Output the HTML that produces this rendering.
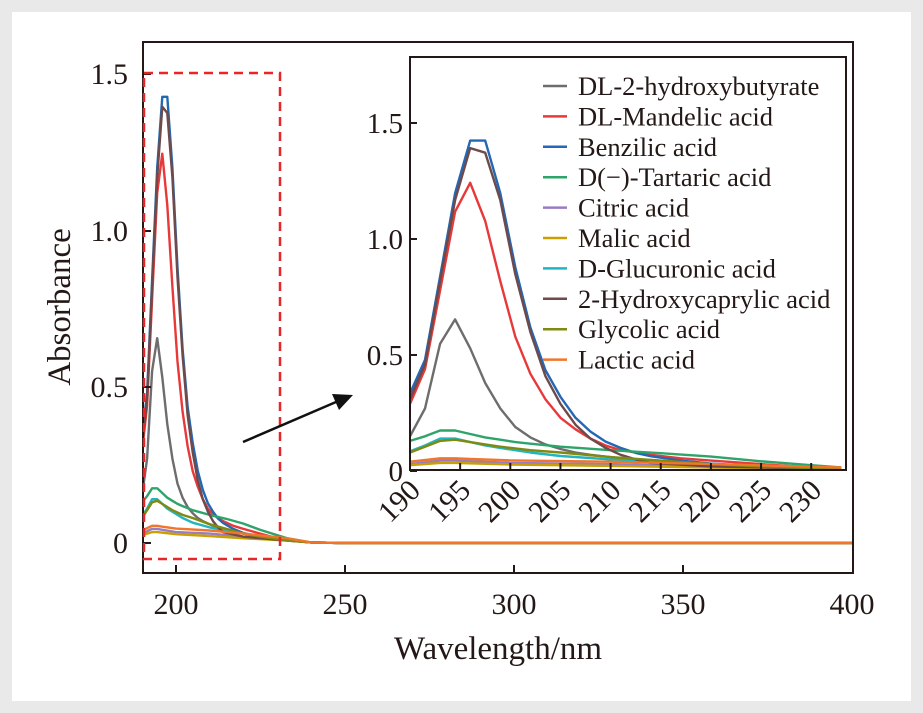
<!DOCTYPE html>
<html><head><meta charset="utf-8"><style>
html,body{margin:0;padding:0;background:#e9e9e9;}
svg{display:block;font-family:"Liberation Serif",serif;}
</style></head><body>
<svg id="s" width="923" height="713" xmlns="http://www.w3.org/2000/svg">
<rect x="0" y="0" width="923" height="713" fill="#e9e9e9"/>
<rect x="12" y="12" width="899" height="689" fill="#fff"/>
<defs>
<clipPath id="cm"><rect x="143" y="42" width="710" height="531"/></clipPath>
<clipPath id="ci"><rect x="410" y="57" width="436" height="413"/></clipPath>
</defs>
<g id="main" clip-path="url(#cm)"></g>
<rect x="143" y="42" width="710" height="531" fill="none" stroke="#231815" stroke-width="2"/>
<g stroke="#231815" stroke-width="2">
<line x1="176" y1="573" x2="176" y2="565"/><line x1="345" y1="573" x2="345" y2="565"/><line x1="514" y1="573" x2="514" y2="565"/><line x1="683" y1="573" x2="683" y2="565"/>
<line x1="143" y1="543" x2="151" y2="543"/><line x1="143" y1="387" x2="151" y2="387"/><line x1="143" y1="231" x2="151" y2="231"/><line x1="143" y1="74" x2="151" y2="74"/>
</g>
<g font-size="30" fill="#231815" text-anchor="middle">
<text x="176" y="614">200</text><text x="345" y="614">250</text><text x="514" y="614">300</text><text x="683" y="614">350</text><text x="852" y="614">400</text>
<text x="498" y="659" font-size="33">Wavelength/nm</text>
</g>
<g font-size="30" fill="#231815" text-anchor="end">
<text x="128" y="553">0</text><text x="128" y="397">0.5</text><text x="128" y="241">1.0</text><text x="128" y="84">1.5</text>
</g>
<text transform="translate(70,307) rotate(-90)" font-size="33" fill="#231815" text-anchor="middle">Absorbance</text>
<rect x="144" y="73" width="136" height="486" fill="none" stroke="#e8262a" stroke-width="2.5" stroke-dasharray="9,6"/>
<line x1="243" y1="442" x2="336" y2="402" stroke="#111" stroke-width="2.5"/>
<polygon points="353,395 332,394 339,410" fill="#111"/>
<rect x="410" y="57" width="436" height="413" fill="#fff"/>
<g id="ins" clip-path="url(#ci)"></g>
<rect x="410" y="57" width="436" height="413" fill="none" stroke="#231815" stroke-width="2"/>
<g id="itk" stroke="#231815" stroke-width="2"></g>
<g id="itl" font-size="30" fill="#231815"></g>
<g font-size="29" fill="#231815" text-anchor="end">
<text x="403" y="481">0</text><text x="403" y="365">0.5</text><text x="403" y="249">1.0</text><text x="403" y="133">1.5</text>
</g>
<g id="leg" font-size="26.5" fill="#231815"></g>
</svg>
<script>
var S=[
["#6d6d6d","DL-2-hydroxybutyrate",[[190,.15],[191.5,.27],[193,.55],[194.5,.655],[196,.53],[197.5,.38],[199,.27],[200.5,.19],[202,.145],[203.5,.115],[205,.095],[206.5,.08],[208,.07],[211,.055],[215,.04],[220,.03],[225,.02],[233,.01]]],
["#e8393a","DL-Mandelic acid",[[190,.29],[191.5,.44],[193,.78],[194.5,1.12],[196,1.245],[197.5,1.08],[199,.82],[200.5,.58],[202,.42],[203.5,.31],[205,.23],[206.5,.18],[208,.14],[209.5,.11],[211,.09],[214,.07],[217,.055],[220,.045],[225,.03],[230,.015],[233,.01]]],
["#2467b4","Benzilic acid",[[190,.335],[191.5,.48],[193,.84],[194.5,1.2],[196,1.427],[197.5,1.427],[199,1.2],[200.5,.88],[202,.62],[203.5,.436],[205,.32],[206.5,.23],[208,.17],[209.5,.127],[211,.1],[212.5,.078],[214,.064],[217,.045],[220,.032],[225,.02],[233,.01]]],
["#2ea46a","D(\u2212)-Tartaric acid",[[190,.13],[191.5,.15],[193,.175],[194.5,.175],[196,.16],[197.5,.145],[199,.135],[200.5,.125],[202,.118],[205,.105],[210,.09],[215,.077],[220,.062],[225,.042],[230,.025],[233,.015]]],
["#9a7cc0","Citric acid",[[190,.03],[193,.045],[194.5,.045],[200,.035],[210,.03],[220,.02],[233,.01]]],
["#c9a000","Malic acid",[[190,.025],[193,.035],[194.5,.035],[200,.028],[210,.022],[220,.015],[233,.008]]],
["#22b5c0","D-Glucuronic acid",[[190,.085],[191.5,.11],[193,.14],[194.5,.14],[196,.125],[197.5,.11],[199,.1],[200.5,.09],[202,.08],[205,.065],[210,.05],[215,.04],[220,.03],[225,.02],[233,.01]]],
["#6e4a4a","2-Hydroxycaprylic acid",[[190,.31],[191.5,.46],[193,.82],[194.5,1.17],[196,1.395],[197.5,1.375],[199,1.17],[200.5,.85],[202,.6],[203.5,.41],[205,.29],[206.5,.2],[208,.14],[209.5,.1],[211,.07],[212.5,.05],[214,.035],[220,.02],[233,.008]]],
["#7f8a10","Glycolic acid",[[190,.08],[191.5,.105],[193,.13],[194.5,.135],[196,.125],[197.5,.115],[199,.105],[202,.09],[205,.08],[210,.06],[215,.045],[220,.03],[225,.02],[233,.008]]],
["#f0762a","Lactic acid",[[190,.04],[193,.055],[194.5,.055],[196,.052],[200,.046],[210,.04],[220,.03],[233,.015]]]
];
var NS="http://www.w3.org/2000/svg";
function el(p,t,a,txt){var e=document.createElementNS(NS,t);for(var k in a)e.setAttribute(k,a[k]);if(txt)e.textContent=txt;p.appendChild(e);return e;}
var gm=document.getElementById("main"),gi=document.getElementById("ins");
S.forEach(function(s){
 var d=s[2].concat([[240,0.002],[250,0],[400,0]]);
 el(gm,"polyline",{points:d.map(function(p){return (142+(p[0]-190)*3.38).toFixed(1)+","+(543-p[1]*312.7).toFixed(1)}).join(" "),fill:"none",stroke:s[0],"stroke-width":2.4,"stroke-linejoin":"round"});
 el(gi,"polyline",{points:s[2].map(function(p){return (410+(p[0]-190)*10.03).toFixed(1)+","+(471-p[1]*231.5).toFixed(1)}).join(" "),fill:"none",stroke:s[0],"stroke-width":2.4,"stroke-linejoin":"round"});
});
var tk=document.getElementById("itk"),tl=document.getElementById("itl");
for(var w=190;w<=230;w+=5){var x=410+(w-190)*10.03;
 el(tk,"line",{x1:x,y1:470,x2:x,y2:463});
 el(tl,"text",{transform:"translate("+(x+12)+",492) rotate(-45)","text-anchor":"end"},""+w);}
[471,355,239,123].forEach(function(y){el(tk,"line",{x1:410,y1:y,x2:417,y2:y});});
var lg=document.getElementById("leg");
S.forEach(function(s,i){var y=86+i*30.4;
 el(lg,"line",{x1:543,y1:y,x2:567,y2:y,stroke:s[0],"stroke-width":2.5});
 el(lg,"text",{x:578,y:y+9},s[1]);});
</script>
</body></html>
